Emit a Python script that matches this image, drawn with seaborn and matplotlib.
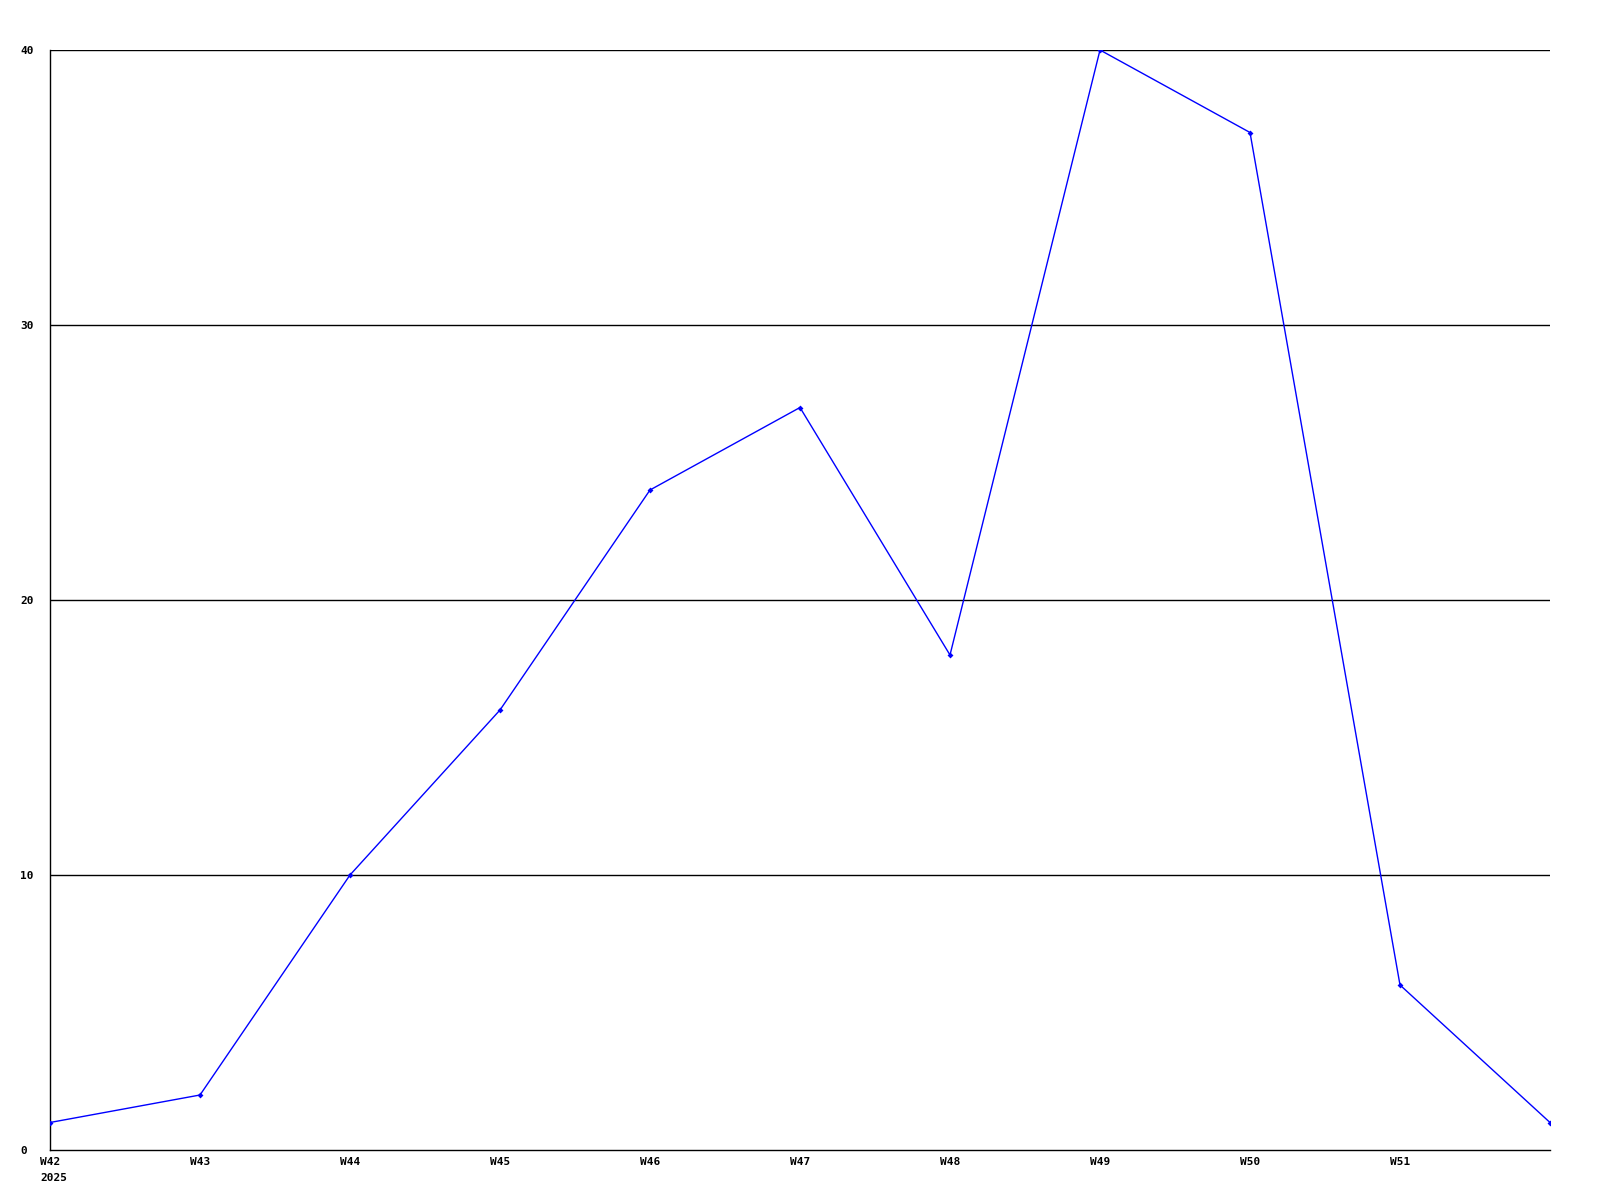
import numpy as np
import matplotlib
matplotlib.use("Agg")
import matplotlib.pyplot as plt
import matplotlib.transforms as mtransforms
import seaborn as sns

weeks = ["W42", "W43", "W44", "W45", "W46", "W47", "W48", "W49", "W50", "W51", "W52"]
counts = [1, 2, 10, 16, 24, 27, 18, 40, 37, 6, 1]
tick_labels = ["W42\n2025", "W43", "W44", "W45", "W46", "W47", "W48", "W49", "W50", "W51"]
y_ticks = [0, 10, 20, 30, 40]

sns.set_style("white")
plt.rcParams["font.family"] = ["DejaVu Sans Mono"]
plt.rcParams["text.color"] = "black"
plt.rcParams["xtick.color"] = "black"
plt.rcParams["ytick.color"] = "black"

fig = plt.figure(figsize=(16, 12), dpi=100)
ax = fig.add_axes([50 / 1600, 50 / 1200, 1500 / 1600, 1100 / 1200])

pos = np.arange(len(weeks))
sns.lineplot(x=pos, y=counts, ax=ax, color="#0000ff", linewidth=1,
             marker="D", markersize=3, markeredgewidth=0, zorder=3)

ax.set_xlim(0, len(weeks) - 1)
ax.set_ylim(0, 40)
ax.set_yticks(y_ticks)
ax.set_yticklabels([str(v) for v in y_ticks], fontsize=8, fontweight="bold")
ax.set_xticks(pos[:len(tick_labels)])
ax.set_xticklabels(tick_labels, fontsize=8, fontweight="bold", ha="left",
                   linespacing=1.7)
ax.tick_params(axis="both", length=0, colors="black")
ax.tick_params(axis="x", pad=5)
ax.tick_params(axis="y", pad=21.6)
for lab in ax.get_yticklabels():
    lab.set_horizontalalignment("left")
off = mtransforms.ScaledTranslation(-10 / 100, 0, fig.dpi_scale_trans)
for lab in ax.get_xticklabels():
    lab.set_transform(lab.get_transform() + off)

for v in y_ticks[1:]:
    ax.axhline(v, color="black", linewidth=1, zorder=1)

for side in ["top", "right"]:
    ax.spines[side].set_visible(False)
for side in ["left", "bottom"]:
    ax.spines[side].set_color("black")
    ax.spines[side].set_linewidth(1)

ax.set_xlabel("")
ax.set_ylabel("")
fig.savefig("out.png", dpi=100, facecolor="white")
